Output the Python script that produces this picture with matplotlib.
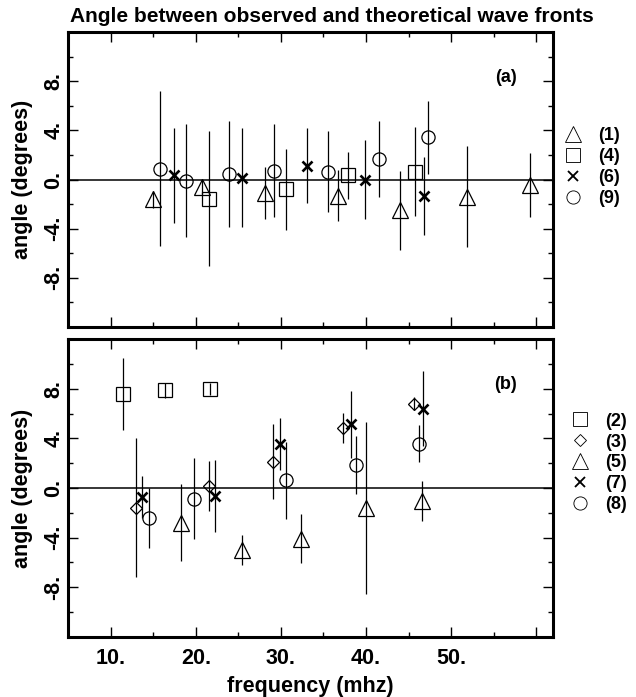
import matplotlib
matplotlib.use("Agg")
import matplotlib.pyplot as plt
from matplotlib.lines import Line2D

plt.rcParams['font.family'] = ['Liberation Sans', 'DejaVu Sans']
plt.rcParams['font.weight'] = 'bold'
plt.rcParams['axes.titleweight'] = 'bold'
plt.rcParams['axes.labelweight'] = 'bold'

# panel (a)
a1_f = [14.97, 20.76, 28.08, 36.72, 44.04, 51.9, 59.3]
a1_ang = [-1.6, -0.6, -1.1, -1.3, -2.5, -1.4, -0.45]
a1_err = [0.7, 0.6, 2.1, 2.1, 3.2, 4.1, 2.6]

a4_f = [21.54, 30.6, 37.9, 45.8]
a4_ang = [-1.55, -0.8, 0.33, 0.65]
a4_err = [5.5, 3.3, 1.95, 3.6]

a6_f = [17.43, 25.4, 33.04, 39.85, 46.83]
a6_ang = [0.33, 0.15, 1.14, 0.0, -1.35]
a6_err = [3.9, 4.05, 3.05, 3.2, 3.15]

a9_f = [15.75, 18.88, 23.85, 29.2, 35.55, 41.5, 47.35]
a9_ang = [0.87, -0.08, 0.46, 0.73, 0.65, 1.66, 3.44]
a9_err = [6.3, 4.6, 4.3, 3.75, 3.3, 3.1, 2.95]

# panel (b)
b2_f = [11.45, 16.4, 21.6]
b2_ang = [7.55, 7.88, 7.96]
b2_err = [2.9, 0.6, 0.5]

b3_f = [12.9, 21.54, 29.05, 37.27, 45.65]
b3_ang = [-1.59, 0.16, 2.13, 4.83, 6.8]
b3_err = [5.6, 2.0, 3.0, 1.2, 0.5]

b5_f = [18.18, 25.4, 32.38, 39.96, 46.56]
b5_ang = [-2.8, -5.0, -4.07, -1.6, -1.05]
b5_err = [3.1, 1.2, 1.95, 6.9, 1.6]

b7_f = [13.68, 22.2, 29.84, 38.25, 46.76]
b7_ang = [-0.7, -0.65, 3.54, 5.15, 6.39]
b7_err = [1.7, 2.9, 2.1, 2.7, 3.0]

b8_f = [14.46, 19.74, 30.62, 38.84, 46.25]
b8_ang = [-2.4, -0.86, 0.62, 1.85, 3.58]
b8_err = [2.4, 3.25, 3.1, 2.3, 1.5]

xticks = [10, 20, 30, 40, 50, 60]
xtick_labels = ['10.', '20.', '30.', '40.', '50.', '']
yticks = [-8, -4, 0, 4, 8]
ytick_labels = ['-8.', '-4.', '0.', '4.', '8.']

mk = {'^': (11, 0.9), 's': (10, 0.9), 'x': (6.7, 1.9), 'o': (9.5, 0.9), 'D': (6, 0.9)}


def draw(ax, f, ang, err, m):
    ms, mew = mk[m]
    ax.errorbar(f, ang, yerr=err, fmt=m, ms=ms, mfc='none', mec='k', mew=mew,
                ecolor='k', elinewidth=0.9, capsize=0)


def setup(ax, panel, show_x):
    ax.set_xlim(5, 62)
    ax.set_ylim(-12, 12)
    ax.axhline(0, color='k', lw=1.1, zorder=1)
    ax.set_xticks(xticks)
    ax.set_xticks(range(5, 62, 5), minor=True)
    ax.set_yticks(yticks)
    ax.set_yticks(range(-10, 12, 2), minor=True)
    ax.set_yticklabels(ytick_labels, rotation=90, va='center')
    if show_x:
        ax.set_xticklabels(xtick_labels)
        ax.set_xlabel('frequency (mhz)', fontsize=15.5, labelpad=5)
    else:
        ax.set_xticklabels([])
    ax.tick_params(which='both', direction='in', top=True, right=True, labelsize=15.5)
    ax.tick_params(which='major', length=7, width=1)
    ax.tick_params(which='minor', length=3.5, width=1)
    ax.tick_params(axis='x', pad=8)
    ax.tick_params(axis='y', pad=3)
    for s in ax.spines.values():
        s.set_linewidth(2.2)
    ax.set_ylabel('angle (degrees)', fontsize=15.5)
    ax.yaxis.set_label_coords(-0.073, 0.5)
    ax.text(0.902, 0.846, panel, transform=ax.transAxes, fontsize=13,
            ha='center', va='center')


def legend(ax, markers, labels, x, y):
    handles = []
    for m in markers:
        ms, mew = mk[m]
        handles.append(Line2D([], [], ls='none', marker=m, ms=ms, mfc='none', mec='k', mew=mew * 0.7))
    ax.legend(handles, labels, loc='center left', bbox_to_anchor=(x, y), frameon=False,
              fontsize=13, handlelength=2.2, handletextpad=0.3, borderpad=0,
              borderaxespad=0, labelspacing=0.22)


fig = plt.figure(figsize=(6.36, 6.97), dpi=100)
ax_a = fig.add_axes([0.1077, 0.5308, 0.7618, 0.4232])
ax_b = fig.add_axes([0.1077, 0.0861, 0.7618, 0.4275])

draw(ax_a, a1_f, a1_ang, a1_err, '^')
draw(ax_a, a4_f, a4_ang, a4_err, 's')
draw(ax_a, a6_f, a6_ang, a6_err, 'x')
draw(ax_a, a9_f, a9_ang, a9_err, 'o')
setup(ax_a, '(a)', False)
legend(ax_a, ['^', 's', 'x', 'o'], ['(1)', '(4)', '(6)', '(9)'], 1.0, 0.541)
ax_a.set_title('Angle between observed and theoretical wave fronts', loc='left',
               fontsize=15, pad=7, x=0.003)

draw(ax_b, b2_f, b2_ang, b2_err, 's')
draw(ax_b, b3_f, b3_ang, b3_err, 'D')
draw(ax_b, b5_f, b5_ang, b5_err, '^')
draw(ax_b, b7_f, b7_ang, b7_err, 'x')
draw(ax_b, b8_f, b8_ang, b8_err, 'o')
setup(ax_b, '(b)', True)
legend(ax_b, ['s', 'D', '^', 'x', 'o'], ['(2)', '(3)', '(5)', '(7)', '(8)'], 1.015, 0.584)

fig.savefig('out.png', dpi=100)
